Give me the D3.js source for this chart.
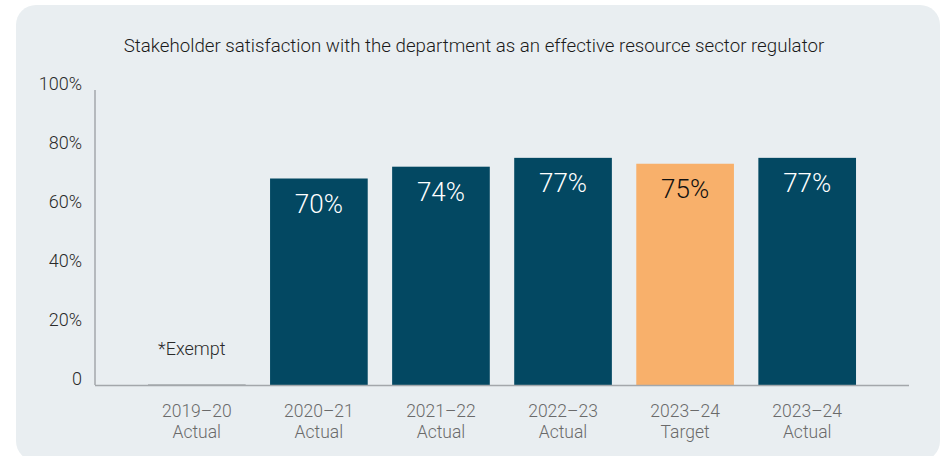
<!DOCTYPE html>
<html>
<head>
<meta charset="utf-8">
<script src="https://cdn.jsdelivr.net/npm/d3@7"></script>
<style>
  html, body { margin: 0; padding: 0; background: #ffffff; }
  svg { display: block; font-family: Roboto, "Noto Sans", sans-serif; }
</style>
</head>
<body>
<svg id="chart" width="941" height="456"></svg>
<script>
const title = "Stakeholder satisfaction with the department as an effective resource sector regulator";
const categories = ["2019–20|Actual", "2020–21|Actual", "2021–22|Actual", "2022–23|Actual", "2023–24|Target", "2023–24|Actual"];
const values = [0, 70, 74, 77, 75, 77];
const valueLabels = ["*Exempt", "70%", "74%", "77%", "75%", "77%"];
const kinds = ["exempt", "actual", "actual", "actual", "target", "actual"];
const yTicks = [0, 20, 40, 60, 80, 100];

const colors = { actual: "#034862", target: "#f8b06b", exempt: "#85898d" };
const labelColors = { actual: "#ffffff", target: "#111111", exempt: "#2a2a2a" };

const svg = d3.select("#chart");

// panel
svg.append("rect")
  .attr("x", 16).attr("y", 5).attr("width", 924).attr("height", 456)
  .attr("rx", 20).attr("ry", 20)
  .attr("fill", "#e9eef1");

svg.append("text")
  .attr("x", 474).attr("y", 52)
  .attr("text-anchor", "middle")
  .attr("font-size", 18.7)
  .attr("font-weight", 300)
  .attr("fill", "#1a1a1a")
  .text(title);

const x = d3.scaleBand()
  .domain(categories)
  .range([95, 909])
  .paddingInner(0.2)
  .paddingOuter(0.434);

const y = d3.scaleLinear().domain([0, 100]).range([385, 90]);

// bars
const bars = svg.append("g");
categories.forEach((c, i) => {
  const k = kinds[i];
  if (k === "exempt") {
    bars.append("rect")
      .attr("x", x(c)).attr("y", y(values[i]) - 0.5)
      .attr("width", x.bandwidth()).attr("height", 1.5)
      .attr("fill", colors.exempt);
    bars.append("text")
      .attr("x", x(c) + x.bandwidth() / 2 - 5)
      .attr("y", y(values[i]) - 30)
      .attr("text-anchor", "middle")
      .attr("font-size", 18)
      .attr("font-weight", 300)
      .attr("fill", labelColors.exempt)
      .text(valueLabels[i]);
  } else {
    bars.append("rect")
      .attr("x", x(c)).attr("y", y(values[i]))
      .attr("width", x.bandwidth()).attr("height", y(0) - y(values[i]))
      .attr("fill", colors[k]);
    bars.append("text")
      .attr("x", x(c) + x.bandwidth() / 2)
      .attr("y", y(values[i]) + 34)
      .attr("text-anchor", "middle")
      .attr("font-size", 26)
      .attr("font-weight", 300)
      .attr("fill", labelColors[k])
      .text(valueLabels[i]);
  }
});

// y axis
const yAxis = svg.append("g");
yAxis.append("line")
  .attr("x1", 95).attr("x2", 95)
  .attr("y1", y(100)).attr("y2", y(0))
  .attr("stroke", "#a3a7ab").attr("stroke-width", 1.5);
yAxis.selectAll("text.tick").data(yTicks).join("text")
  .attr("class", "tick")
  .attr("x", 82).attr("y", d => y(d))
  .attr("text-anchor", "end")
  .attr("font-size", 18)
  .attr("font-weight", 300)
  .attr("fill", "#2a2a2a")
  .text(d => d === 0 ? "0" : d + "%");

// x axis
const xAxis = svg.append("g");
xAxis.append("line")
  .attr("x1", 95).attr("x2", 909)
  .attr("y1", y(0) + 0.5).attr("y2", y(0) + 0.5)
  .attr("stroke", "#a3a7ab").attr("stroke-width", 1.5);
categories.forEach(c => {
  const parts = c.split("|");
  const t = xAxis.append("text")
    .attr("x", x(c) + x.bandwidth() / 2)
    .attr("text-anchor", "middle")
    .attr("font-size", 17.5)
    .attr("font-weight", 300)
    .attr("fill", "#6a6a6a");
  t.append("tspan").attr("x", x(c) + x.bandwidth() / 2).attr("y", 417).text(parts[0]);
  t.append("tspan").attr("x", x(c) + x.bandwidth() / 2).attr("y", 438).text(parts[1]);
});
</script>
</body>
</html>
